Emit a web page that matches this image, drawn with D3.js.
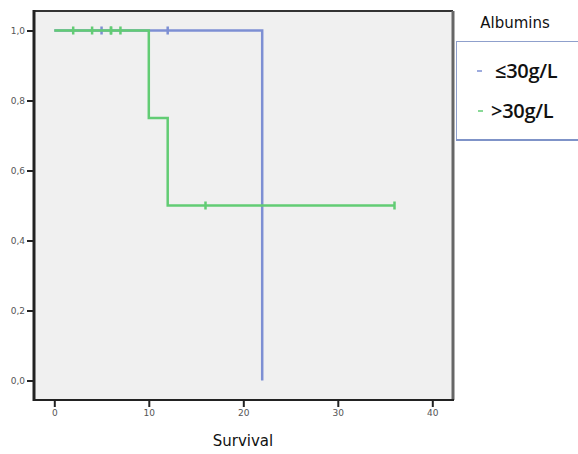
<!DOCTYPE html>
<html>
<head>
<meta charset="utf-8">
<script src="https://cdn.jsdelivr.net/npm/d3@7"></script>
<style>
  body { margin: 0; background: #fff; }
  svg { display: block; }
  .axis text { font-family: "DejaVu Sans", sans-serif; font-size: 9px; fill: #555; }
  .axis path.domain { display: none; }
  .axis line { stroke: #222; stroke-width: 2px; }
</style>
</head>
<body>
<div id="chart"></div>
<script>
const W = 578, H = 454;

// Kaplan-Meier steps: [time, survival]
const lowTimes = [0, 22, 22];
const lowSurv = [1.0, 1.0, 0.0];
const lowCensor = [5, 12];

const highTimes = [0, 10, 10, 12, 12, 36];
const highSurv = [1.0, 1.0, 0.75, 0.75, 0.5, 0.5];
const highCensor = [2, 4, 6, 6, 7, 16, 36];

const xTicks = [0, 10, 20, 30, 40];
const yTicks = [0, 0.2, 0.4, 0.6, 0.8, 1.0];
const groupLabels = ['≤30g/L', '>30g/L'];
const colors = ['#7d8fd3', '#62cc74'];

const x = d3.scaleLinear().domain([0, 40]).range([54.3, 432.3]);
const y = d3.scaleLinear().domain([0, 1]).range([380.5, 30.5]);

const frame = { left: 34, right: 453, top: 11, bottom: 400 };

const svg = d3.select('#chart').append('svg').attr('width', W).attr('height', H);

// plot background
svg.append('rect')
  .attr('x', frame.left).attr('y', frame.top)
  .attr('width', frame.right - frame.left).attr('height', frame.bottom - frame.top)
  .attr('fill', '#f0f0f0');

// axes
svg.append('g')
  .attr('class', 'axis')
  .attr('transform', `translate(${frame.left},0)`)
  .call(d3.axisLeft(y).tickValues(yTicks).tickSize(7).tickPadding(2)
    .tickFormat((d) => d3.format('.1f')(d).replace('.', ',')));

svg.append('g')
  .attr('class', 'axis')
  .attr('transform', `translate(0,${frame.bottom})`)
  .call(d3.axisBottom(x).tickValues(xTicks).tickSize(7).tickPadding(3));

// frame
svg.append('line').attr('x1', frame.left - 1).attr('x2', frame.right).attr('y1', frame.top).attr('y2', frame.top)
  .attr('stroke', '#333').attr('stroke-width', 2);
svg.append('line').attr('x1', frame.right).attr('x2', frame.right).attr('y1', frame.top).attr('y2', frame.bottom)
  .attr('stroke', '#666').attr('stroke-width', 3);
svg.append('line').attr('x1', frame.left).attr('x2', frame.left).attr('y1', frame.top - 1).attr('y2', frame.bottom + 1)
  .attr('stroke', '#222').attr('stroke-width', 3);
svg.append('line').attr('x1', frame.left).attr('x2', frame.right + 1).attr('y1', frame.bottom).attr('y2', frame.bottom)
  .attr('stroke', '#222').attr('stroke-width', 2);

const line = d3.line().x((d) => x(d[0])).y((d) => y(d[1]));

const series = [
  { times: lowTimes, surv: lowSurv, censor: lowCensor, color: colors[0] },
  { times: highTimes, surv: highSurv, censor: highCensor, color: colors[1] },
];

// survival at time t (right-continuous step)
function survAt(s, t) {
  let v = s.surv[0];
  s.times.forEach((tt, i) => { if (tt <= t) v = s.surv[i]; });
  return v;
}

series.forEach((s) => {
  const pts = s.times.map((t, i) => [t, s.surv[i]]);
  svg.append('path')
    .attr('d', line(pts))
    .attr('fill', 'none')
    .attr('stroke', s.color)
    .attr('stroke-width', 2.5);

  svg.append('g').selectAll('line')
    .data(s.censor)
    .join('line')
    .attr('x1', (d) => x(d)).attr('x2', (d) => x(d))
    .attr('y1', (d) => y(survAt(s, d)) - 4)
    .attr('y2', (d) => y(survAt(s, d)) + 4)
    .attr('stroke', s.color)
    .attr('stroke-width', 2.5);
});

// x title
svg.append('text')
  .attr('x', 243).attr('y', 446)
  .attr('text-anchor', 'middle')
  .style('font-family', '"DejaVu Sans", sans-serif')
  .style('font-size', '15px')
  .attr('fill', '#111')
  .text('Survival');

// legend
svg.append('text')
  .attr('x', 515).attr('y', 28)
  .attr('text-anchor', 'middle')
  .style('font-family', '"DejaVu Sans", sans-serif')
  .style('font-size', '15px')
  .attr('fill', '#111')
  .text('Albumins');

svg.append('rect')
  .attr('x', 456.5).attr('y', 41.5).attr('width', 130).attr('height', 98)
  .attr('fill', '#fff').attr('stroke', '#8fa0cc').attr('stroke-width', 1);
svg.append('line').attr('x1', 456).attr('x2', W).attr('y1', 140).attr('y2', 140)
  .attr('stroke', '#7f93c8').attr('stroke-width', 2);

const leg = svg.append('g').selectAll('g')
  .data(groupLabels)
  .join('g')
  .attr('transform', (d, i) => `translate(0,${70 + i * 40})`);

leg.append('line')
  .attr('x1', (d, i) => 477 + i).attr('x2', (d, i) => 482 + i)
  .attr('y1', 1).attr('y2', 1)
  .attr('stroke', (d, i) => colors[i]).attr('stroke-width', 1.5);

leg.append('text')
  .attr('x', (d, i) => (i === 0 ? 495 : 491))
  .attr('y', 8)
  .style('font-family', '"Open Sans", sans-serif')
  .style('font-size', '20px')
  .style('font-weight', 600)
  .style('letter-spacing', '-0.3px')
  .attr('fill', '#111')
  .text((d) => d);
</script>
</body>
</html>
